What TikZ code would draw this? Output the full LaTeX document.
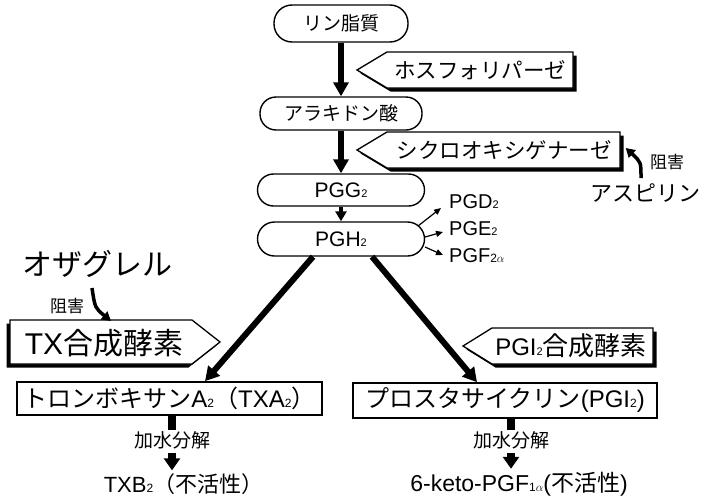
\documentclass[tikz,border=0pt]{standalone}
\usepackage{fontspec}
\setmainfont{Liberation Sans}
\newfontfamily\jp{Noto Sans CJK JP}
\usetikzlibrary{arrows.meta,calc,backgrounds}
\newcommand\fs[1]{\fontsize{#1}{#1}\selectfont}
\newcommand\lowtxt[2]{{\fs{#1}#2}}
% pentagon pointing left: tip x, corner x, right x, top y, bottom y
\newcommand\enzleft[5]{%
  \fill[black,shift={(3.5,3.5)}] (#1,{(#4+#5)/2}) -- (#2,#4) -- (#3,#4) -- (#3,#5) -- (#2,#5) -- cycle;
  \filldraw[fill=white,draw=black,line width=1.3] (#1,{(#4+#5)/2}) -- (#2,#4) -- (#3,#4) -- (#3,#5) -- (#2,#5) -- cycle;}
% pentagon pointing right: left x, corner x, tip x, top y, bottom y
\newcommand\enzright[5]{%
  \fill[black,shift={(-3.5,3.5)}] (#1,#4) -- (#2,#4) -- (#3,{(#4+#5)/2}) -- (#2,#5) -- (#1,#5) -- cycle;
  \filldraw[fill=white,draw=black,line width=1.3] (#1,#4) -- (#2,#4) -- (#3,{(#4+#5)/2}) -- (#2,#5) -- (#1,#5) -- cycle;}
\begin{document}
\begin{tikzpicture}[x=1pt,y=-1pt,
  capsule/.style={draw,line width=1.4,fill=white,rounded corners=16,inner sep=0},
  resbox/.style={draw,line width=1.6,fill=white,inner sep=0},
  plain/.style={inner sep=0},
  bigarrow/.style={line width=6,-{Triangle[width=15pt,length=14pt]}},
  medarrow/.style={line width=4,-{Triangle[width=11pt,length=10pt]}},
  thinarrow/.style={line width=1.2,-{Triangle[width=6pt,length=7pt]}},
  hydarrow/.style={line width=8,-{Triangle[width=16pt,length=12pt]}},
  inharrow/.style={line width=3.5,-{Triangle[width=10pt,length=9pt]}}]
\useasboundingbox (0,0) rectangle (703,498);

% enzyme pentagons
\enzleft{357}{387}{573}{52}{88}
\enzleft{357}{387}{620}{132}{168}
\enzright{10}{192}{220}{320}{364}
\enzleft{463}{492}{653}{328}{364}

\node[plain,font=\jp\fs{21.5}] (pla) at (480,70) {ホスフォリパーゼ};
\node[plain,font=\jp\fs{21.5}] (cox) at (504,150) {シクロオキシゲナーゼ};
\node[plain,font=\fs{30}] (txs) at (104,343) {TX{\jp 合成酵素}};
\node[plain,font=\fs{24}] (pgis) at (571,346) {PGI\lowtxt{11}{2}{\jp\fs{26}合成酵素}};

% main capsules
\node[capsule,rounded corners=18,minimum width=134,minimum height=37,font=\jp\fs{19}] (lip) at (341,23.5) {リン脂質};
\node[capsule,minimum width=162,minimum height=33,font=\jp\fs{19}] (ara) at (341,113.5) {アラキドン酸};
\node[capsule,minimum width=167,minimum height=32,font=\fs{21}] (pgg) at (341,190) {PGG\lowtxt{11}{2}};
\node[capsule,rounded corners=17,minimum width=167,minimum height=34,font=\fs{21}] (pgh) at (341,239) {PGH\lowtxt{11}{2}};

\draw[bigarrow] (lip) -- (ara);
\draw[bigarrow] (ara) -- (pgg);
\draw[medarrow] (pgg) -- (pgh);

% side products
\node[plain,anchor=west,font=\fs{20}] (pgd) at (449,202) {PGD\lowtxt{11}{2}};
\node[plain,anchor=west,font=\fs{20}] (pge) at (449,229) {PGE\lowtxt{11}{2}};
\node[plain,anchor=west,font=\fs{20}] (pgf) at (449,256) {PGF\lowtxt{12}{2$\alpha$}};
\coordinate (d0) at (418,226);
\coordinate (e0) at (425,237);
\coordinate (f0) at (425,247);
\draw[thinarrow] (d0) -- ($(pgd.west)+(-8,6)$);
\draw[thinarrow] (e0) -- ($(pge.west)+(-6,3)$);
\draw[thinarrow] (f0) -- ($(pgf.west)+(-6,-1)$);

% aspirin
\node[plain,font=\jp\fs{17}] (inh1) at (667,162) {阻害};
\node[plain,font=\jp\fs{22}] (asp) at (645,193) {アスピリン};
\coordinate (a0) at (641,178);
\draw[inharrow] (a0) .. controls (641,162) .. ($(cox.east)+(14,-2)$);

% ozagrel
\node[plain,font=\jp\fs{30}] (oza) at (97,264) {オザグレル};
\node[plain,font=\jp\fs{17}] (inh2) at (67,306) {阻害};
\coordinate (o0) at (92,288);
\draw[inharrow] (o0) .. controls (95,308) .. (111,321);

% result boxes
\node[resbox,minimum width=305,minimum height=33,font=\fs{24}] (txa) at (169.5,398.5) {{\jp トロンボキサン}A\lowtxt{12}{2}{\jp （}TXA\lowtxt{12}{2}{\jp ）}};
\node[resbox,minimum width=304,minimum height=35,font=\fs{24}] (pgi) at (505,400.5) {{\jp プロスタサイクリン}(PGI\lowtxt{12}{2})};

\draw[bigarrow] ($(pgh.south)+(-28,0)$) -- ($(txa.north)+(35.5,0)$);
\draw[bigarrow] ($(pgh.south)+(31,0)$) -- ($(pgi.north)+(-28,0)$);

% hydrolysis
\node[plain,font=\jp\fs{19}] (hyd1) at (172,440) {加水分解};
\node[plain,font=\jp\fs{19}] (hyd2) at (511,440) {加水分解};
\node[plain,font=\fs{22}] (txb) at (183.5,484) {TXB\lowtxt{12}{2}{\jp （不活性）}};
\node[plain,font=\fs{23}] (kto) at (519,484) {6-keto-PGF\lowtxt{12}{1$\alpha$}({\jp 不活性})};

\draw[line width=8] (txa.south -| hyd1.north) -- ($(hyd1.north)+(0,-1)$);
\draw[line width=8] (pgi.south -| hyd2.north) -- ($(hyd2.north)+(0,-1)$);
\draw[hydarrow] ($(hyd1.south)+(0,4)$) -- ($(hyd1.south |- txb.north)+(0,-3)$);
\draw[hydarrow] ($(hyd2.south)+(0,4)$) -- ($(hyd2.south |- kto.north)+(0,-3)$);
\end{tikzpicture}
\end{document}
